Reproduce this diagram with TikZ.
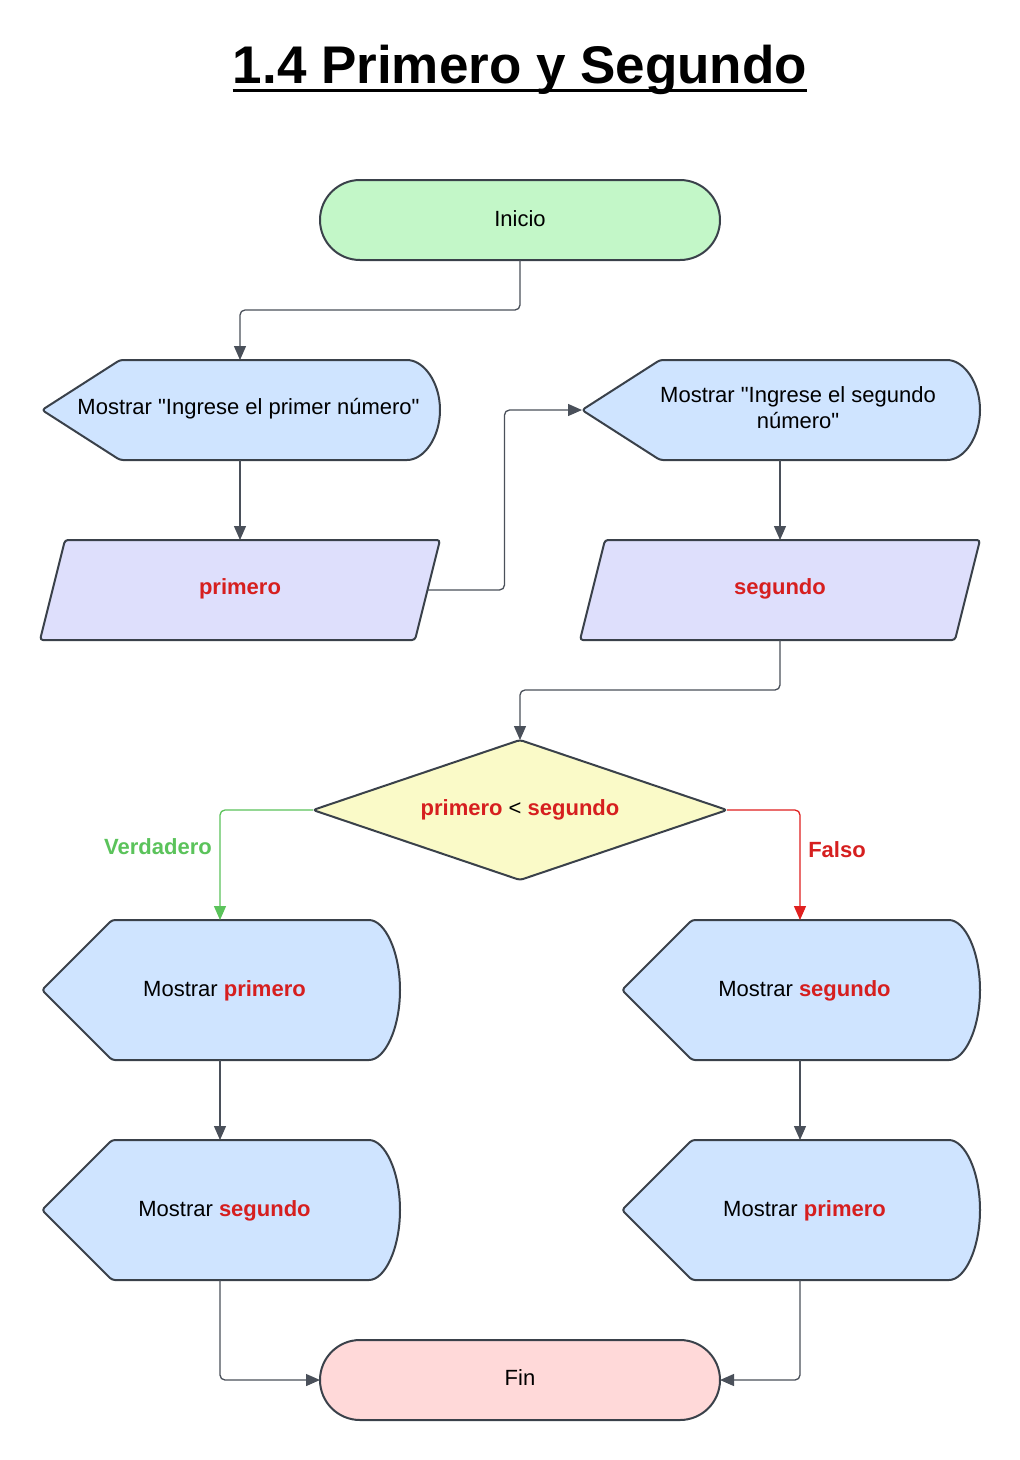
\documentclass[tikz,border=0pt]{standalone}
\usepackage{fontspec}
\setmainfont{Liberation Sans}[Ligatures=TeXOff]
\usetikzlibrary{arrows.meta}
\definecolor{outl}{HTML}{3A414A}
\definecolor{connc}{HTML}{4A505A}
\definecolor{greenf}{HTML}{C3F7C8}
\definecolor{bluef}{HTML}{CFE4FF}
\definecolor{lavf}{HTML}{DEDFFC}
\definecolor{yellf}{HTML}{FAFAC8}
\definecolor{pinkf}{HTML}{FFD9D9}
\definecolor{redt}{HTML}{D61F1F}
\definecolor{greent}{HTML}{5BC35B}
\definecolor{redl}{HTML}{E0201F}
\newcommand\mydisp[7]{%
  \path[shp, fill=bluef] (#1,{-(#2+#4)/2}) -- (#1+#5,-#2) -- (#3-#6,-#2)
    arc[start angle=90,end angle=-90,x radius=#6pt,y radius=#7pt]
    -- (#1+#5,-#4) -- cycle;}
\begin{document}
\begin{tikzpicture}[x=1pt,y=1pt,
  shp/.style={draw=outl, line width=2pt, line join=round, rounded corners=3pt},
  bb/.style={inner sep=0pt, outer sep=0pt},
  conn/.style={draw=connc, line width=1.3pt, rounded corners=5pt,
     -{Triangle[length=14pt,width=12pt]}},
  txt/.style={font=\fontsize{22}{26}\selectfont, inner sep=0pt, anchor=base},
  rb/.style={font=\fontsize{22}{26}\selectfont\bfseries, text=redt}]
\fill[white] (0,0) rectangle (1020,-1460);
\useasboundingbox (0,0) rectangle (1020,-1460);
% title
\node[inner sep=0pt, anchor=base, font=\fontsize{53}{60}\selectfont\bfseries] (title) at (520,-83) {1.4 Primero y Segundo};
\draw[line width=3pt] ([yshift=-7.5pt]title.base west) -- ([yshift=-7.5pt]title.base east);
% Inicio
\draw[shp, rounded corners=40pt, fill=greenf] (320,-180) rectangle (720,-260);
\node[bb, minimum width=400pt, minimum height=80pt] (ini) at (520,-220) {};
\node[txt] (tini) at (520,-226) {Inicio};
% display 1
\mydisp{42}{360}{440}{460}{78}{36}{50}
\node[bb, minimum width=398pt, minimum height=100pt] (d1) at (240,-410) {};
\node[txt] (td1) at (248.5,-414) {Mostrar "Ingrese el primer número"};
% display 2
\mydisp{582}{360}{980}{460}{78}{36}{50}
\node[bb, minimum width=400pt, minimum height=100pt] (d2) at (782,-410) {};
\node[txt, anchor=center, align=center] (td2) at (798,-408) {Mostrar "Ingrese el segundo\\número"};
% parallelogram 1
\path[shp, fill=lavf] (65,-540) -- (440,-540) -- (415,-640) -- (40,-640) -- cycle;
\node[bb, minimum width=400pt, minimum height=100pt] (p1) at (240,-590) {};
\coordinate (p1r) at (427.5,-590);
\node[txt, rb] (tp1) at (240,-594) {primero};
% parallelogram 2
\path[shp, fill=lavf] (605,-540) -- (980,-540) -- (955,-640) -- (580,-640) -- cycle;
\node[bb, minimum width=400pt, minimum height=100pt] (p2) at (780,-590) {};
\node[txt, rb] (tp2) at (780,-594) {segundo};
% diamond
\path[shp, fill=yellf] (313,-810) -- (520,-740) -- (727,-810) -- (520,-880) -- cycle;
\node[bb, minimum width=414pt, minimum height=140pt] (dia) at (520,-810) {};
\node[txt] (tdia) at (520,-815) {\textcolor{redt}{\bfseries primero} < \textcolor{redt}{\bfseries segundo}};
% display 3-6
\mydisp{42}{920}{400}{1060}{70}{34}{70}
\node[bb, minimum width=358pt, minimum height=140pt] (d3) at (220,-990) {};
\node[txt] (td3) at (224.5,-996) {Mostrar \textcolor{redt}{\bfseries primero}};
\mydisp{42}{1140}{400}{1280}{70}{34}{70}
\node[bb, minimum width=358pt, minimum height=140pt] (d4) at (220,-1210) {};
\node[txt] (td4) at (224.5,-1216) {Mostrar \textcolor{redt}{\bfseries segundo}};
\mydisp{622}{920}{980}{1060}{70}{34}{70}
\node[bb, minimum width=358pt, minimum height=140pt] (d5) at (800,-990) {};
\node[txt] (td5) at (804.5,-996) {Mostrar \textcolor{redt}{\bfseries segundo}};
\mydisp{622}{1140}{980}{1280}{70}{34}{70}
\node[bb, minimum width=358pt, minimum height=140pt] (d6) at (800,-1210) {};
\node[txt] (td6) at (804.5,-1216) {Mostrar \textcolor{redt}{\bfseries primero}};
% Fin
\draw[shp, rounded corners=40pt, fill=pinkf] (320,-1340) rectangle (720,-1420);
\node[bb, minimum width=400pt, minimum height=80pt] (fin) at (520,-1380) {};
\node[txt] (tfin) at (520,-1385) {Fin};
% connectors
\draw[conn] (ini.south) -- ++(0,-50) -| (d1.north);
\draw[conn] (d1.south) -- (d1.south |- p1.north);
\draw[conn] (p1r) -- ++(77,0) |- (d2.west);
\draw[conn] (p2.north |- d2.south) -- (p2.north);
\draw[conn] (p2.south) -- ++(0,-50) -| (dia.north);
\draw[conn, draw=greent, -{Triangle[length=14pt,width=12pt,fill=greent]}] (dia.west) -| (d3.north);
\draw[conn, draw=redl, -{Triangle[length=14pt,width=12pt,fill=redl]}] (dia.east) -| (d5.north);
\draw[conn] (d3.south) -- (d4.north);
\draw[conn] (d5.south) -- (d6.north);
\draw[conn] (d4.south) |- (fin.west);
\draw[conn] (d6.south) |- (fin.east);
% labels
\node[txt, font=\fontsize{22}{26}\selectfont\bfseries, text=greent] (lv) at (158,-854) {Verdadero};
\node[txt, font=\fontsize{22}{26}\selectfont\bfseries, text=redt] (lf) at (837,-857) {Falso};
\end{tikzpicture}
\end{document}
